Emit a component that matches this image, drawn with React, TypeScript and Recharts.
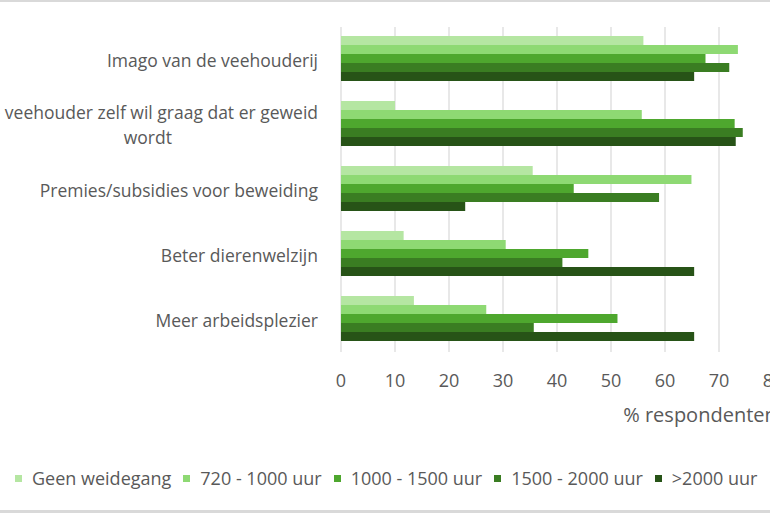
import { BarChart, Bar, XAxis, YAxis, CartesianGrid, Label } from 'recharts';

const categories = [
  'Imago van de veehouderij',
  'De veehouder zelf wil graag dat er geweid wordt',
  'Premies/subsidies voor beweiding',
  'Beter dierenwelzijn',
  'Meer arbeidsplezier',
];

const seriesNames = ['Geen weidegang', '720 - 1000 uur', '1000 - 1500 uur', '1500 - 2000 uur', '>2000 uur'];
const seriesKeys = ['geen', 'u720', 'u1000', 'u1500', 'u2000'];
const seriesColors = ['#B5E6A2', '#8ED973', '#4EA72E', '#3A7D22', '#275317'];

// % respondenten per categorie
const geenWeidegang = [56.0, 10.0, 35.5, 11.6, 13.5];
const uur720tot1000 = [73.5, 55.7, 64.9, 30.5, 26.9];
const uur1000tot1500 = [67.5, 72.9, 43.1, 45.8, 51.2];
const uur1500tot2000 = [71.9, 74.4, 58.9, 41.0, 35.7];
const uurBoven2000 = [65.4, 73.1, 23.0, 65.4, 65.4];

const xTicks = [0, 10, 20, 30, 40, 50, 60, 70, 80];

const seriesValues = [geenWeidegang, uur720tot1000, uur1000tot1500, uur1500tot2000, uurBoven2000];

const data = categories.map((name, i) => {
  const row: Record<string, string | number> = { name };
  seriesKeys.forEach((k, s) => {
    row[k] = seriesValues[s][i];
  });
  return row;
});

const FONT = '"Open Sans", sans-serif';
const TEXT = '#595959';
const CAT_SIZE = 17.5;

const ctx = document.createElement('canvas').getContext('2d');
const measure = (s: string) => {
  if (!ctx) return s.length * CAT_SIZE * 0.5;
  ctx.font = `${CAT_SIZE}px ${FONT}`;
  return ctx.measureText(s).width;
};

// greedy word wrap, like the category axis does in the spreadsheet
const wrap = (label: string, maxW: number) => {
  const lines: string[] = [];
  let cur = '';
  label.split(' ').forEach((w) => {
    const next = cur ? `${cur} ${w}` : w;
    if (cur && measure(next) > maxW) {
      lines.push(cur);
      cur = w;
    } else {
      cur = next;
    }
  });
  if (cur) lines.push(cur);
  return lines;
};

function CategoryTick({ x, y, payload }: any) {
  const lines = wrap(payload.value, 355);
  const w = Math.max(...lines.map(measure));
  const cx = x - w / 2;
  const lh = 25;
  const y0 = y - ((lines.length - 1) * lh) / 2;
  return (
    <g>
      {lines.map((l, i) => (
        <text
          key={i}
          x={cx}
          y={y0 + i * lh}
          textAnchor="middle"
          dominantBaseline="central"
          fill={TEXT}
          fontSize={CAT_SIZE}
          fontFamily={FONT}
        >
          {l}
        </text>
      ))}
    </g>
  );
}

export default function App() {
  return (
    <div
      style={{
        position: 'absolute',
        left: 0,
        top: 0,
        width: 770,
        height: 513,
        overflow: 'hidden',
        background: '#fff',
        fontFamily: FONT,
      }}
    >
      <div style={{ position: 'absolute', left: 0, top: 0, width: 770, height: 2, background: '#d9d9d9' }} />
      <BarChart
        width={820}
        height={513}
        data={data}
        layout="vertical"
        margin={{ top: 27, right: 47, left: 0, bottom: 121 }}
        barCategoryGap={9}
        barGap={0}
      >
        <CartesianGrid horizontal={false} stroke="#d9d9d9" strokeWidth={1.2} />
        <XAxis
          type="number"
          domain={[0, 80]}
          ticks={xTicks}
          axisLine={false}
          tickLine={false}
          tickSize={0}
          tickMargin={22}
          height={40}
          tick={{ fill: TEXT, fontSize: 18, fontFamily: FONT }}
        >
          <Label
            value="% respondenten"
            position="bottom"
            offset={16}
            dx={143}
            fill={TEXT}
            fontSize={20}
            fontFamily={FONT}
          />
        </XAxis>
        <YAxis
          type="category"
          dataKey="name"
          width={341}
          axisLine={false}
          tickLine={false}
          tickSize={0}
          tickMargin={23}
          interval={0}
          tick={<CategoryTick />}
        />
        {seriesKeys.map((k, s) => (
          <Bar key={k} dataKey={k} name={seriesNames[s]} fill={seriesColors[s]} isAnimationActive={false} />
        ))}
      </BarChart>
      <div
        style={{
          position: 'absolute',
          left: 15,
          top: 466,
          display: 'flex',
          alignItems: 'center',
          whiteSpace: 'nowrap',
          fontSize: 18,
          color: TEXT,
          lineHeight: '24px',
        }}
      >
        {seriesNames.map((n, s) => (
          <span key={n} style={{ display: 'flex', alignItems: 'center', marginRight: 12 }}>
            <span style={{ width: 7, height: 7, background: seriesColors[s], marginRight: 10 }} />
            {n}
          </span>
        ))}
      </div>
      <div style={{ position: 'absolute', left: 0, top: 510, width: 770, height: 3, background: '#d9d9d9' }} />
    </div>
  );
}
